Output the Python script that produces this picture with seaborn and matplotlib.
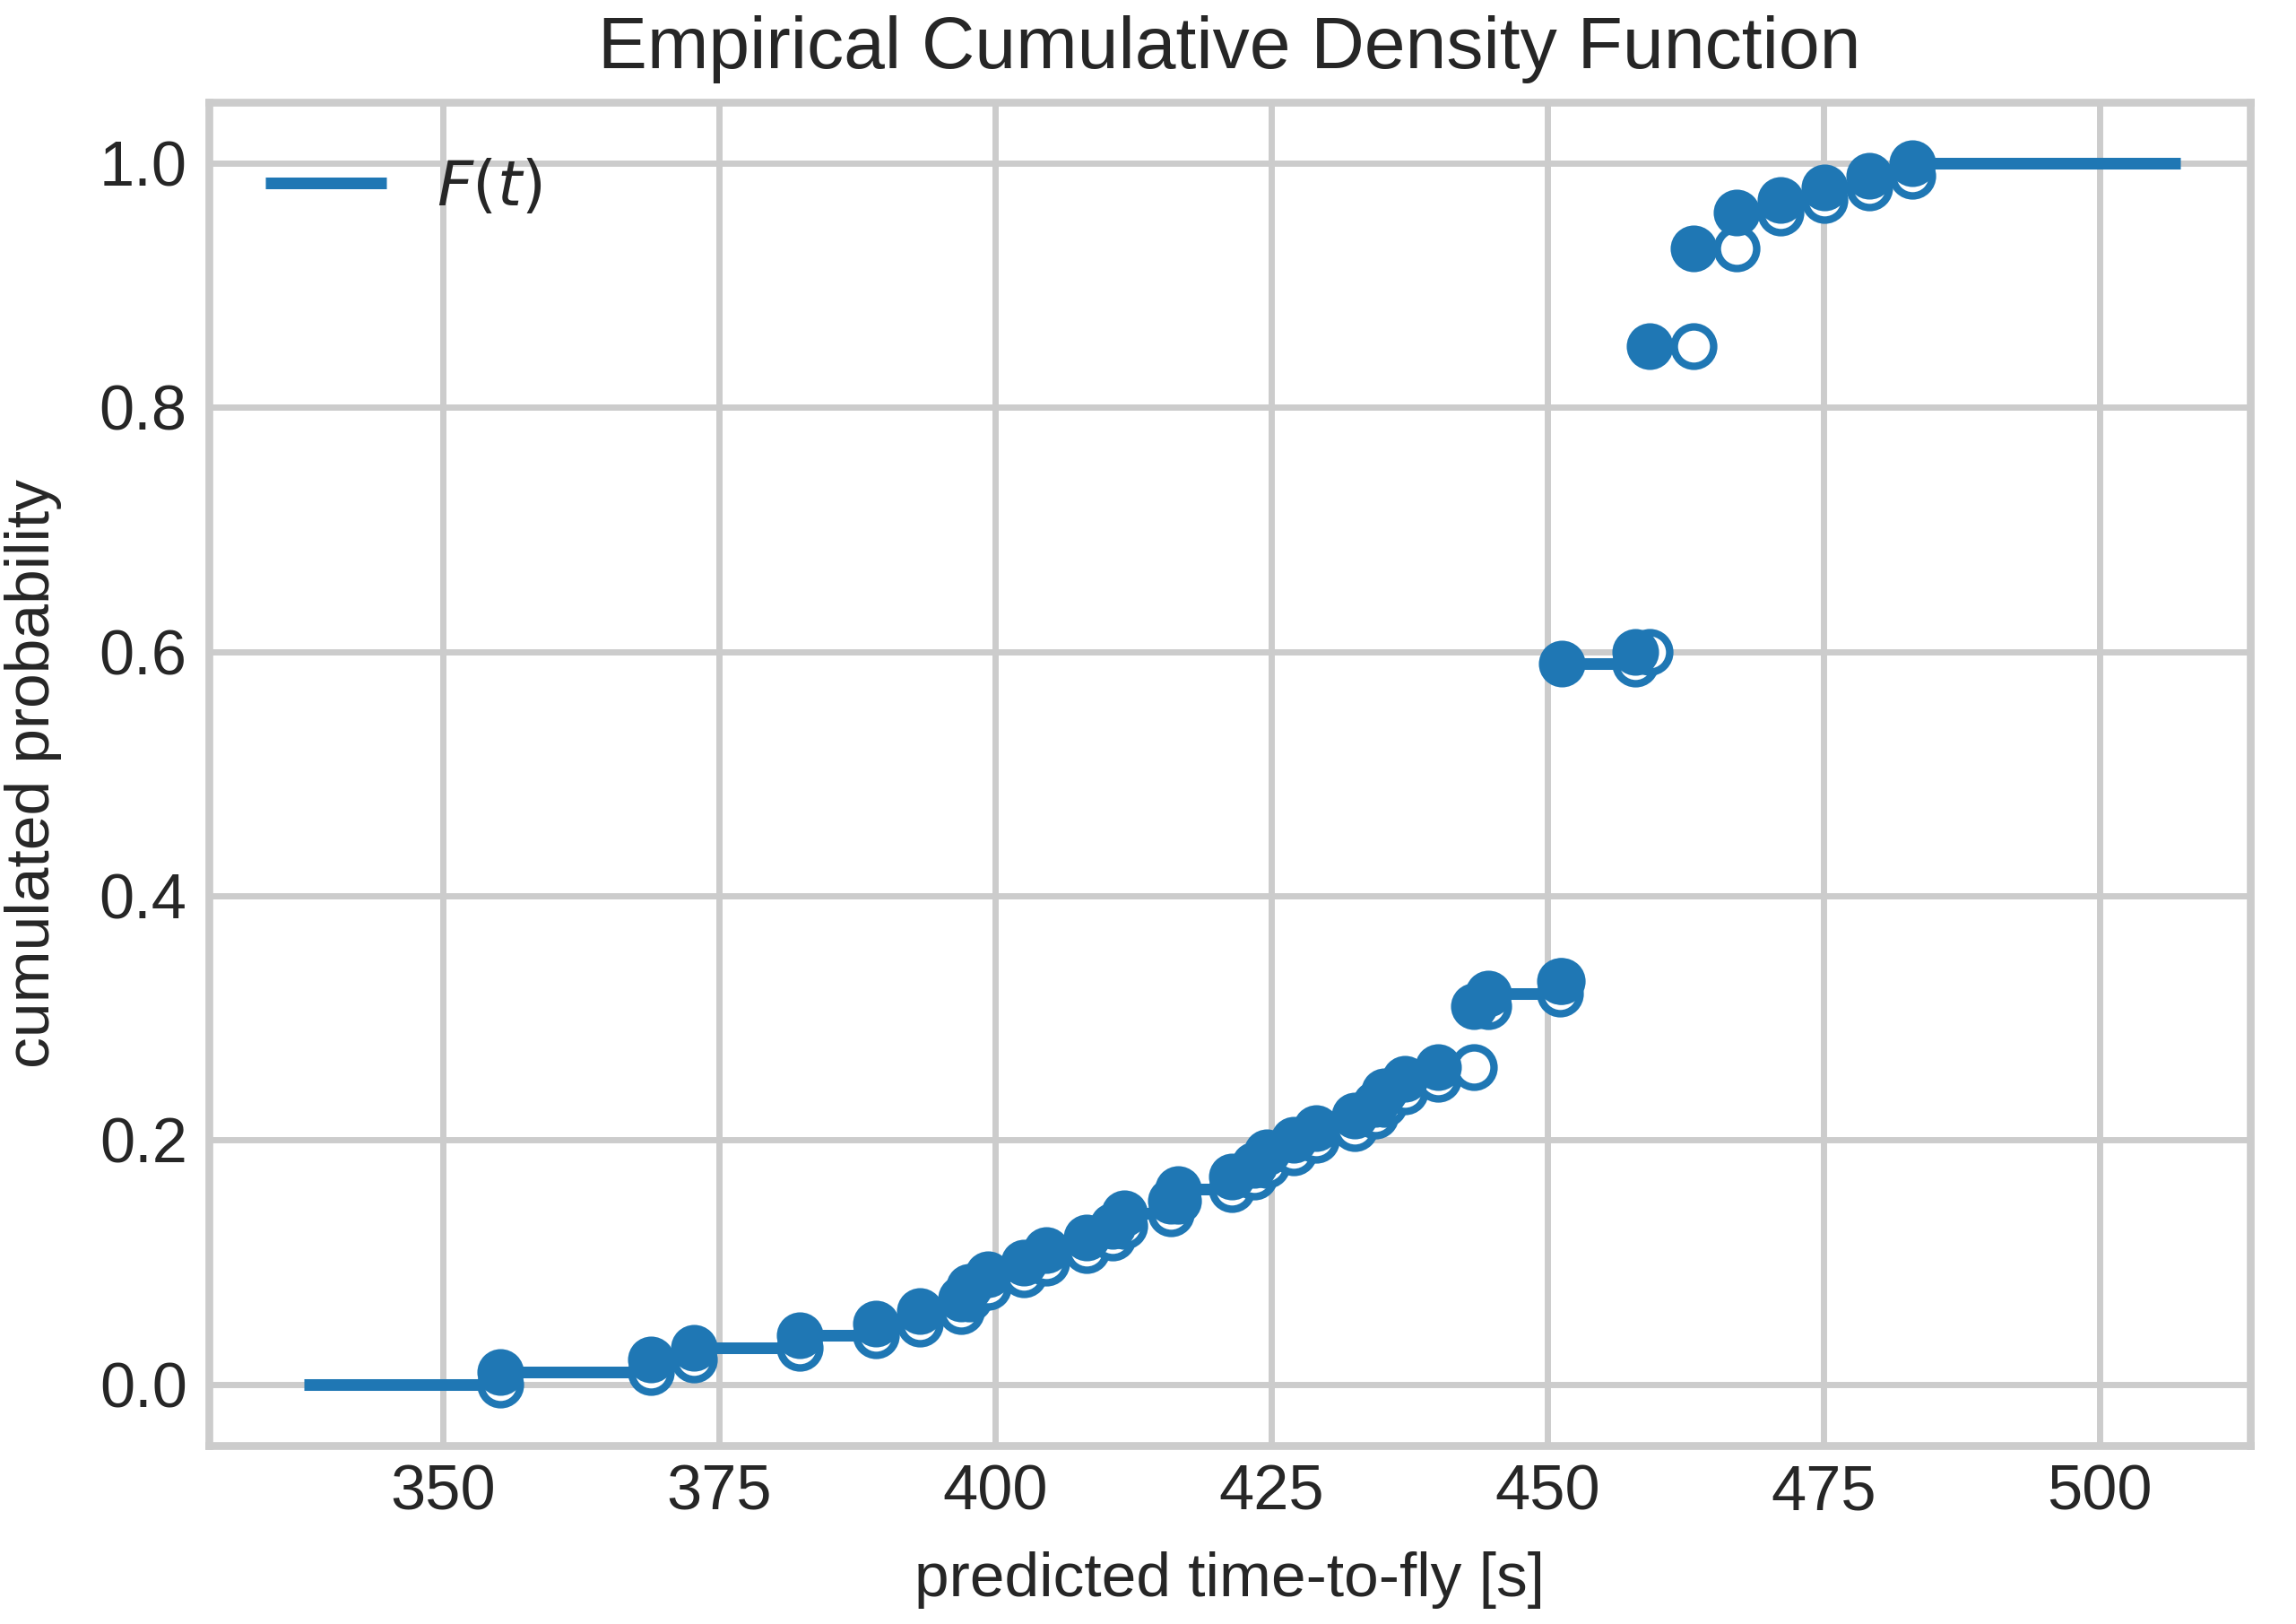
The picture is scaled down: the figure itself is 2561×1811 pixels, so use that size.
import numpy as np
import matplotlib.pyplot as plt
import seaborn as sns

# sorted predicted time-to-fly values [s] and cumulated probability at each
t_pred = [355.2, 368.8, 372.7, 382.3, 389.2, 393.2, 396.9, 397.6, 399.3, 402.6,
          404.6, 408.3, 410.6, 411.7, 415.9, 416.5, 421.4, 423.4, 424.6, 427.0,
          429.0, 432.5, 434.4, 435.2, 437.1, 440.1, 443.3, 444.6, 451.1, 451.3,
          457.9, 459.2, 463.2, 467.1, 471.1, 475.1, 479.1, 483.0]
F_vals = [0.01, 0.02, 0.03, 0.04, 0.05, 0.06, 0.07, 0.08, 0.09, 0.10,
          0.11, 0.12, 0.13, 0.14, 0.15, 0.16, 0.17, 0.18, 0.19, 0.20,
          0.21, 0.22, 0.23, 0.24, 0.25, 0.26, 0.31, 0.32, 0.33, 0.59,
          0.60, 0.85, 0.93, 0.96, 0.97, 0.98, 0.99, 1.00]
t_start = 337.4
t_end = 507.3

sns.set_theme(style='whitegrid', context='poster')
plt.rcParams['font.family'] = ['Liberation Sans', 'DejaVu Sans']

col = '#1f77b4'

# step segments: level F_i from t_i to t_{i+1}
left = [t_start] + t_pred
right = t_pred + [t_end]
levels = [0.0] + F_vals
prev_F = levels[:-1]

fig, ax = plt.subplots(figsize=(10.244, 7.244), dpi=250)
fig.subplots_adjust(left=0.091, right=0.980, top=0.937, bottom=0.110)

ax.hlines(levels, left, right, colors=col, linewidth=3.75, label='$F(t)$', zorder=2)
# open circles: value just before the jump
sns.scatterplot(x=t_pred, y=prev_F, s=160, facecolor='white', edgecolor=col,
                linewidth=2.4, ax=ax, zorder=3)
# filled circles: value at the jump
sns.scatterplot(x=t_pred, y=F_vals, s=225, color=col, linewidth=0, ax=ax, zorder=4)

ax.set_xlim(328.8, 513.6)
ax.set_ylim(-0.05, 1.05)
ax.set_xticks([350, 375, 400, 425, 450, 475, 500])
ax.set_yticks([0.0, 0.2, 0.4, 0.6, 0.8, 1.0])
ax.tick_params(axis='x', labelsize=20.3, length=0, pad=6)
ax.tick_params(axis='y', labelsize=20.3, length=0, pad=7)

ax.set_title('Empirical Cumulative Density Function', fontsize=23.7, pad=11)
ax.set_xlabel('predicted time-to-fly [s]', fontsize=20, labelpad=9)
ax.set_ylabel('cumulated probability', fontsize=20, labelpad=12)
ax.legend(loc='upper left', fontsize=20, frameon=False, handlelength=1.95)

for s in ax.spines.values():
    s.set_color('.8')
    s.set_linewidth(2.5)

fig.savefig('out.png', dpi=250)
